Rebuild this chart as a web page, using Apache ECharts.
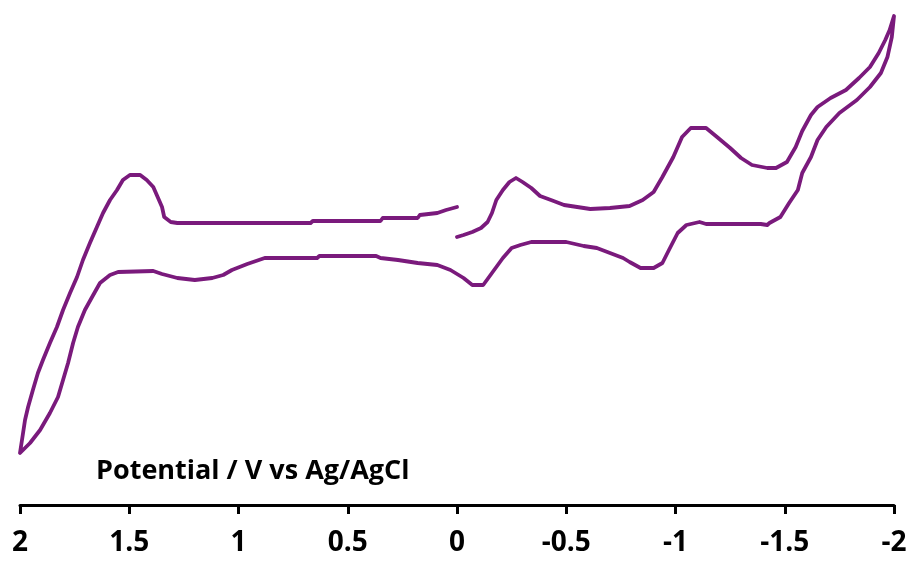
<!DOCTYPE html>
<html>
<head>
<meta charset="utf-8">
<script src="https://cdn.jsdelivr.net/npm/echarts@6/dist/echarts.min.js"></script>
<style>
  html, body { margin: 0; padding: 0; background: #ffffff; }
  #chart { width: 912px; height: 562px; }
</style>
</head>
<body>
<div id="chart"></div>
<script>
// Cyclic voltammogram: potential (V vs Ag/AgCl) against current (arbitrary units)

// Sweep 1: from 0 V towards -2 V
const sweepNegE = [0.00, -0.03, -0.07, -0.11, -0.14, -0.16, -0.18, -0.21, -0.24, -0.27, -0.30, -0.34, -0.38, -0.43, -0.49, -0.55, -0.61, -0.70, -0.79, -0.85, -0.90, -0.94, -0.99, -1.03, -1.07, -1.14, -1.19, -1.25, -1.30, -1.35, -1.42, -1.46, -1.51, -1.55, -1.58, -1.62, -1.65, -1.71, -1.78, -1.84, -1.89, -1.93, -1.96, -1.98, -2.00];
const sweepNegI = [1.8, 2.0, 2.3, 2.7, 3.3, 4.2, 5.5, 6.5, 7.3, 7.7, 7.3, 6.7, 5.9, 5.5, 5.0, 4.8, 4.6, 4.7, 4.9, 5.5, 6.3, 7.8, 9.8, 11.8, 12.7, 12.7, 11.8, 10.7, 9.7, 9.0, 8.7, 8.7, 9.3, 10.8, 12.4, 14.0, 14.8, 15.7, 16.5, 17.7, 18.8, 20.2, 21.5, 22.5, 23.9];

// Sweep 2: reverse from -2 V to +2 V
const sweepPosE = [-1.99, -1.97, -1.94, -1.89, -1.83, -1.75, -1.69, -1.65, -1.62, -1.58, -1.56, -1.52, -1.48, -1.43, -1.42, -1.39, -1.14, -1.11, -1.05, -1.01, -0.97, -0.94, -0.90, -0.84, -0.79, -0.76, -0.70, -0.64, -0.58, -0.50, -0.34, -0.29, -0.25, -0.21, -0.16, -0.12, -0.07, -0.03, 0.03, 0.09, 0.18, 0.27, 0.35, 0.37, 0.63, 0.64, 0.88, 0.92, 0.96, 1.03, 1.07, 1.12, 1.20, 1.28, 1.35, 1.39, 1.551, 1.588, 1.634, 1.670, 1.703, 1.735, 1.757, 1.780, 1.803, 1.826, 1.863, 1.908, 1.954, 2.00];
const sweepPosI = [21.8, 19.8, 18.2, 16.8, 15.5, 14.2, 12.8, 11.5, 9.8, 8.2, 6.5, 5.2, 3.8, 3.2, 3.0, 3.1, 3.1, 3.3, 3.0, 2.2, 0.5, -0.8, -1.3, -1.3, -0.7, -0.3, 0.2, 0.7, 0.9, 1.3, 1.3, 1.0, 0.7, -0.3, -1.8, -3.0, -3.0, -2.3, -1.5, -1.0, -0.8, -0.5, -0.3, -0.1, -0.1, -0.3, -0.3, -0.6, -0.9, -1.5, -2.0, -2.3, -2.5, -2.3, -1.9, -1.6, -1.7, -2.0, -2.8, -4.2, -5.5, -7.2, -8.8, -10.8, -12.5, -14.2, -15.8, -17.5, -18.8, -19.8];

// Sweep 3: from +2 V back to 0 V
const sweepBackE = [1.986, 1.977, 1.963, 1.941, 1.918, 1.895, 1.863, 1.831, 1.803, 1.771, 1.739, 1.712, 1.680, 1.648, 1.620, 1.588, 1.556, 1.529, 1.497, 1.45, 1.42, 1.39, 1.37, 1.35, 1.34, 1.31, 1.28, 0.67, 0.66, 0.35, 0.34, 0.18, 0.17, 0.09, 0.05, 0.00];
const sweepBackI = [-17.8, -16.5, -15.2, -13.5, -11.8, -10.5, -8.8, -7.2, -5.5, -3.8, -2.2, -0.5, 1.2, 2.8, 4.2, 5.5, 6.5, 7.5, 8.0, 8.0, 7.5, 6.8, 5.8, 4.8, 3.8, 3.3, 3.2, 3.2, 3.4, 3.4, 3.7, 3.7, 4.0, 4.2, 4.5, 4.8];

const potentialTicks = ['2', '1.5', '1', '0.5', '0', '-0.5', '-1', '-1.5', '-2'];
const axisTitle = 'Potential / V vs Ag/AgCl';

function pairs(xs, ys) {
  return xs.map((x, k) => [x, ys[k]]);
}

const scan = pairs(sweepNegE, sweepNegI)
  .concat(pairs(sweepPosE, sweepPosI))
  .concat(pairs(sweepBackE, sweepBackI));

const labelFont = "'Open Sans', sans-serif";

const chart = echarts.init(document.getElementById('chart'), null, { renderer: 'canvas' });
chart.setOption({
  animation: false,
  backgroundColor: '#ffffff',
  title: {
    text: axisTitle,
    left: 91,
    top: 453,
    textStyle: {
      fontFamily: labelFont,
      fontWeight: 'bold',
      fontSize: 27,
      color: '#000000'
    }
  },
  grid: { left: 20, right: 18, top: 5, bottom: 57, containLabel: false },
  xAxis: {
    type: 'value',
    inverse: true,
    min: -2,
    max: 2,
    interval: 0.5,
    splitLine: { show: false },
    axisLine: { show: true, onZero: false, lineStyle: { color: '#000000', width: 3 } },
    axisTick: { show: true, length: 9, lineStyle: { color: '#000000', width: 3 } },
    axisLabel: {
      margin: 24,
      fontFamily: labelFont,
      fontWeight: 'bold',
      fontSize: 28,
      color: '#000000',
      formatter: function (v) {
        const idx = Math.round((2 - v) / 0.5);
        return potentialTicks[idx];
      }
    }
  },
  yAxis: {
    type: 'value',
    show: false,
    min: -25,
    max: 25
  },
  series: [{
    type: 'line',
    data: scan,
    showSymbol: false,
    lineStyle: { color: '#7A1A7C', width: 3.8, join: 'round', cap: 'round' },
    silent: true
  }]
});
</script>
</body>
</html>
